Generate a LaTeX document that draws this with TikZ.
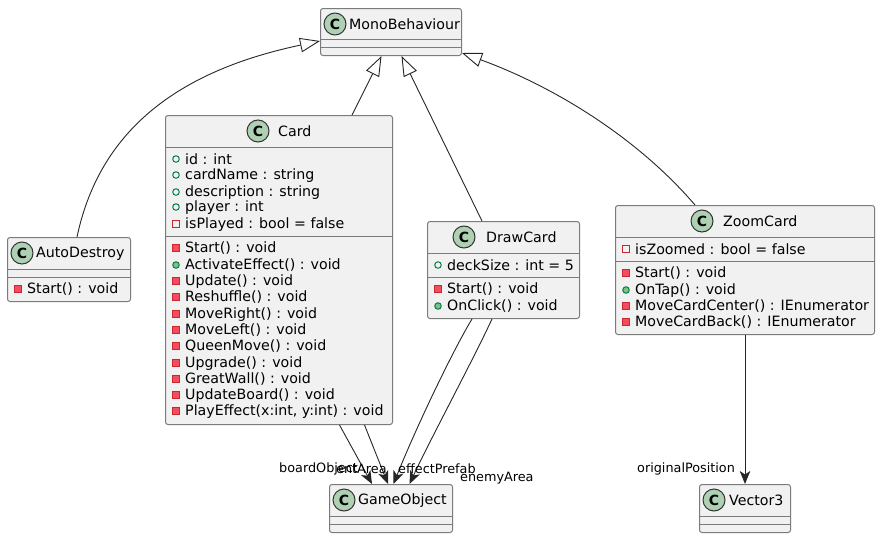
\documentclass[tikz,border=0pt]{standalone}
\usepackage{fontspec}
\setmainfont{DejaVu Sans}
\usetikzlibrary{arrows.meta,positioning}
\definecolor{boxfill}{HTML}{F1F1F1}
\definecolor{boxline}{HTML}{7B7B7B}
\definecolor{spotfill}{HTML}{ADD1B2}
\definecolor{pubcol}{HTML}{038048}
\definecolor{pubfill}{HTML}{84BE84}
\definecolor{privcol}{HTML}{C82930}
\definecolor{privfill}{HTML}{F24D5C}
\tikzset{
classbox/.style = {draw=boxline, fill=boxfill, rounded corners=2.5pt, line width=1pt, inner sep=0pt},
spot/.style = {circle, draw=black!80, fill=spotfill, line width=1pt, minimum size=22pt, inner sep=0pt, font=\fontsize{14}{14}\selectfont\bfseries},
title/.style = {anchor=west, inner sep=0pt, font=\fontsize{14.2}{16}\selectfont},
member/.style = {anchor=west, inner sep=0pt, font=\fontsize{14.2}{16}\selectfont},
rolelabel/.style = {anchor=west, inner sep=0pt, font=\fontsize{12.8}{15}\selectfont},
sep/.style = {draw=boxline, line width=1pt},
pubf/.style = {circle, draw=pubcol, line width=1pt, minimum size=6.5pt, inner sep=0pt},
pubm/.style = {pubf, fill=pubfill},
privf/.style = {rectangle, draw=privcol, line width=1pt, minimum size=6.5pt, inner sep=0pt},
privm/.style = {privf, fill=privfill},
inherit/.style = {line width=.9pt, black!85, -{Triangle[open, length=20pt, width=14.5pt, fill=white]}},
assoc/.style = {line width=.9pt, black!85, -{Stealth[length=13pt, width=10.5pt, inset=3.5pt]}}
}
% one class box: name, x, y, width, height
\newcommand{\classbox}[5]{
  \node [classbox, minimum width=#4pt, minimum height=#5pt, anchor=north west] (#1) at (#2,#3) {};
}
% one row: marker style, name, x, y, text
\newcommand{\row}[5]{
  \node [#1] (#2m) at (#3+11,#4) {};
  \node [member] (#2) at (#3+20,#4+0.5) {#5};
}
\begin{document}
\begin{tikzpicture}[x=1pt,y=-1pt]
\useasboundingbox (0,0) rectangle (880,538);

	\classbox{mono}{320}{8}{141}{47}
	\node [spot] (monoc) at (335,24) {C};
	\node [title] (monot) at (349,24.5) {MonoBehaviour};
	\draw [sep] (mono.west |- 0,39) -- (mono.east |- 0,39);
	\draw [sep] (mono.west |- 0,47) -- (mono.east |- 0,47);

	\classbox{auto}{7}{237}{123}{64}
	\node [spot] (autoc) at (22,253) {C};
	\node [title] (autot) at (36,253.5) {AutoDestroy};
	\draw [sep] (auto.west |- 0,269) -- (auto.east |- 0,269);
	\draw [sep] (auto.west |- 0,277) -- (auto.east |- 0,277);
	\row{privm}{autoa}{7}{289}{Start() : void}

	\classbox{card}{165}{115}{227}{309}
	\node [spot] (cardc) at (258,131) {C};
	\node [title] (cardt) at (278,131.5) {Card};
	\draw [sep] (card.west |- 0,147) -- (card.east |- 0,147);
	\draw [sep] (card.west |- 0,236) -- (card.east |- 0,236);
	\row{pubf}{carda}{165}{159}{id : int}
	\row{pubf}{cardb}{165}{175}{cardName : string}
	\row{pubf}{cardd}{165}{192}{description : string}
	\row{pubf}{carde}{165}{207}{player : int}
	\row{privf}{cardf}{165}{224}{isPlayed : bool = false}
	\row{privm}{cardg}{165}{248}{Start() : void}
	\row{pubm}{cardh}{165}{265}{ActivateEffect() : void}
	\row{privm}{cardi}{165}{281}{Update() : void}
	\row{privm}{cardj}{165}{297}{Reshuffle() : void}
	\row{privm}{cardk}{165}{314}{MoveRight() : void}
	\row{privm}{cardl}{165}{330}{MoveLeft() : void}
	\row{privm}{cardn}{165}{346}{QueenMove() : void}
	\row{privm}{cardo}{165}{363}{Upgrade() : void}
	\row{privm}{cardp}{165}{379}{GreatWall() : void}
	\row{privm}{cardq}{165}{395}{UpdateBoard() : void}
	\row{privm}{cardr}{165}{411}{PlayEffect(x:int, y:int) : void}

	\classbox{draw}{427}{221}{152}{97}
	\node [spot] (drawc) at (464,237) {C};
	\node [title] (drawt) at (486,237.5) {DrawCard};
	\draw [sep] (draw.west |- 0,253) -- (draw.east |- 0,253);
	\draw [sep] (draw.west |- 0,277) -- (draw.east |- 0,277);
	\row{pubf}{drawa}{427}{265}{deckSize : int = 5}
	\row{privm}{drawb}{427}{289}{Start() : void}
	\row{pubm}{drawd}{427}{306}{OnClick() : void}

	\classbox{zoom}{615}{205}{259}{129}
	\node [spot] (zoomc) at (702,221) {C};
	\node [title] (zoomt) at (723,221.5) {ZoomCard};
	\draw [sep] (zoom.west |- 0,237) -- (zoom.east |- 0,237);
	\draw [sep] (zoom.west |- 0,261) -- (zoom.east |- 0,261);
	\row{privf}{zooma}{615}{249}{isZoomed : bool = false}
	\row{privm}{zoomb}{615}{273}{Start() : void}
	\row{pubm}{zoomd}{615}{290}{OnTap() : void}
	\row{privm}{zoome}{615}{306}{MoveCardCenter() : IEnumerator}
	\row{privm}{zoomf}{615}{322}{MoveCardBack() : IEnumerator}

	\classbox{game}{329}{484}{123}{48}
	\node [spot] (gamec) at (344,500) {C};
	\node [title] (gamet) at (358,500.5) {GameObject};
	\draw [sep] (game.west |- 0,516) -- (game.east |- 0,516);
	\draw [sep] (game.west |- 0,524) -- (game.east |- 0,524);

	\classbox{vect}{699}{484}{91}{48}
	\node [spot] (vectc) at (714,500) {C};
	\node [title] (vectt) at (729,500.5) {Vector3};
	\draw [sep] (vect.west |- 0,516) -- (vect.east |- 0,516);
	\draw [sep] (vect.west |- 0,524) -- (vect.east |- 0,524);

	\draw [inherit] ([xshift=-54pt]auto.north east) .. controls (98,138) and (168,73) .. (mono.west |- 0,41);
	\draw [inherit] ([xshift=73pt]card.north) -- ([xshift=-9.5pt]mono.south);
	\draw [inherit] ([xshift=-98pt]draw.north east) -- ([xshift=10.5pt]mono.south);
	\draw [inherit] ([xshift=-180pt]zoom.north east) .. controls (635,135) and (550,85) .. (mono.east |- 0,53);

	\draw [assoc] ([xshift=60.5pt]card.south) -- ([xshift=-19pt]game.north);
	\draw [assoc] ([xshift=85.5pt]card.south) -- ([xshift=-3pt]game.north);
	\draw [assoc] ([xshift=-88pt]draw.south east) .. controls (473,360) and (430,440) .. ([xshift=18.5pt]game.north);
	\draw [assoc] ([xshift=-108pt]draw.south east) .. controls (452,352) and (415,430) .. ([xshift=2.5pt]game.north);
	\draw [assoc] (zoom.south -| vect.north) -- (vect.north);

	\node [rolelabel] (lboard) at (279,468.5) {boardObject};
	\node [rolelabel] (lpoint) at (336,468.5) {entArea};
	\node [rolelabel] (leffect) at (398,468.5) {effectPrefab};
	\node [rolelabel] (lenemy) at (460,478) {enemyArea};
	\node [rolelabel] (lorig) at (637,468.5) {originalPosition};
\end{tikzpicture}
\end{document}
